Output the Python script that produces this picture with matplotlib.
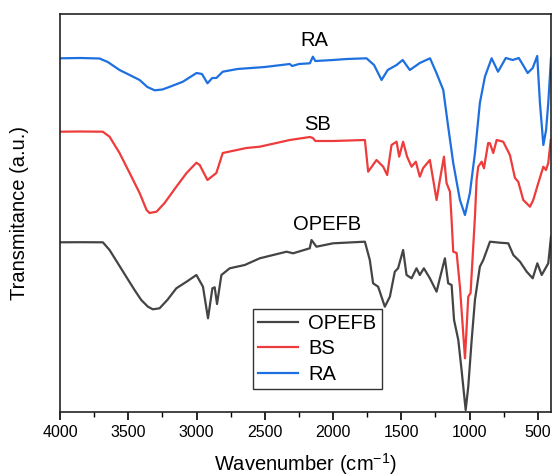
import matplotlib
matplotlib.use("Agg")
import matplotlib.pyplot as plt
from matplotlib.ticker import MultipleLocator

plt.rcParams['font.family'] = ['Liberation Sans', 'DejaVu Sans']
plt.rcParams['mathtext.fontset'] = 'custom'
plt.rcParams['mathtext.rm'] = 'Liberation Sans'

# ---- data (wavenumber cm^-1, transmittance a.u., offset stacked) ----
ra_wn = [4000, 3850, 3710, 3650, 3564, 3490, 3417, 3360, 3307, 3250, 3194, 3100, 3000, 2960, 2920,
         2885, 2855, 2808, 2700, 2500, 2317, 2300, 2250, 2170, 2148, 2130, 2000, 1900, 1755, 1700,
         1645, 1600, 1535, 1490, 1438, 1365, 1290, 1242, 1193, 1157, 1120, 1071, 1034, 998, 961,
         925, 888, 839, 792, 735, 684, 640, 609, 575, 538, 505, 485, 460, 440, 424, 404]
ra_t = [353.7, 354, 353.5, 350, 342, 337, 332, 325, 321.7, 322.5, 325.3, 330.3, 339, 338, 328.7,
        334, 334, 340.3, 343, 345, 348, 346, 348, 348.7, 355.3, 351, 352, 353, 353.7, 347,
        332, 342, 347, 352, 342, 349, 353.7, 338.7, 322, 285.3, 249, 212, 197, 219, 259,
        309, 335.3, 353.7, 340.3, 354, 352, 354, 347, 339, 344, 356, 309, 267, 282, 309, 354]

bs_wn = [4000, 3850, 3687, 3637, 3564, 3490, 3417, 3366, 3344, 3293, 3234, 3148, 3073, 3001, 2977,
         2920, 2855, 2808, 2635, 2537, 2317, 2170, 2148, 2130, 2000, 1767, 1743, 1682, 1633, 1604,
         1572, 1535, 1516, 1487, 1458, 1425, 1394, 1365, 1340, 1291, 1242, 1218, 1188, 1169, 1144,
         1132, 1120, 1095, 1071, 1034, 1010, 993, 961, 949, 937, 912, 895, 864, 851, 827, 802, 754,
         705, 668, 644, 607, 558, 534, 497, 460, 441, 424, 406]
bs_t = [280.3, 280.5, 280.3, 275.3, 259, 239, 219, 202, 199, 200.3, 209, 225.3, 239, 249.3, 247,
        232, 239, 259, 264, 265.3, 272, 275, 274, 271, 271, 272, 240.3, 252, 245.3, 237,
        267, 270.3, 255.3, 270.3, 255.3, 245.3, 250.3, 235.3, 244, 252, 212, 232, 255.3, 229, 220.3,
        192, 160.3, 159, 125.3, 53.7, 115.3, 119, 195.3, 232, 245.3, 250.3, 243.7, 269, 268.7, 259,
        272, 270.3, 257, 234, 230.3, 212, 205.3, 212, 229, 245.3, 242, 249, 272]

op_wn = [4000, 3850, 3686, 3637, 3515, 3454, 3405, 3356, 3320, 3271, 3214, 3148, 3073, 3001, 2953,
         2916, 2884, 2867, 2850, 2818, 2757, 2647, 2537, 2341, 2293, 2171, 2158, 2122, 2000, 1767,
         1731, 1707, 1670, 1621, 1584, 1548, 1524, 1487, 1462, 1425, 1389, 1365, 1335, 1291, 1242,
         1218, 1181, 1157, 1132, 1114, 1083, 1059, 1029, 1010, 985, 961, 925, 900, 851, 778, 717,
         680, 631, 582, 538, 504, 472, 424, 404]
op_t = [169.7, 169.8, 169.7, 162, 135.3, 122, 112, 105.3, 102.7, 103.7, 112, 123.7, 130.3, 137, 125.3,
        93.7, 123.7, 124.7, 108, 137, 143.7, 147, 153.7, 160.3, 158.7, 163.7, 172, 165.3, 168.7, 170.3,
        152, 128.7, 125.3, 105.3, 115.3, 140.3, 143.7, 162, 137, 133.7, 143.7, 137, 143.7, 133.7, 120.3,
        133.7, 153.7, 128.7, 127, 92, 72, 42, 2, 25.3, 72, 112, 145.3, 152, 170.3, 169.3, 168.7,
        157, 150.3, 140.3, 133.7, 148.7, 137, 148.7, 175.3]

series_names = ['OPEFB', 'BS', 'RA']
series_colors = ['#444444', '#EE3B3B', '#1E6FDF']
curve_labels = ['RA', 'SB', 'OPEFB']
label_pos = [(2134, 372), (2112, 287), (2046, 187)]

fig = plt.figure(figsize=(5.52, 4.76), dpi=100)
ax = fig.add_axes([60/552, (476-412)/476, (551-60)/552, (412-14)/476])

for wn, t, name, c in zip([op_wn, bs_wn, ra_wn], [op_t, bs_t, ra_t], series_names, series_colors):
    ax.plot(wn, t, color=c, lw=1.6, label=name, solid_joinstyle='round')

for txt, (x, y) in zip(curve_labels, label_pos):
    ax.text(x, y, txt, fontsize=14.5, ha='center', va='center')

ax.set_xlim(4000, 404)
ax.set_ylim(0, 398)
ax.xaxis.set_major_locator(MultipleLocator(500))
ax.xaxis.set_minor_locator(MultipleLocator(250))
ax.tick_params(axis='x', which='major', direction='out', length=6, width=1.2, labelsize=11.5)
ax.tick_params(axis='x', which='minor', direction='out', length=3.5, width=1.0)
ax.set_yticks([])
for s in ax.spines.values():
    s.set_linewidth(1.2)
    s.set_color('#222222')

ax.set_xlabel('Wavenumber (cm$^{\\mathregular{-1}}$)', fontsize=14.5, labelpad=8)
ax.set_ylabel('Transmitance (a.u.)', fontsize=14.5, labelpad=22)

leg = ax.legend(loc='lower left', bbox_to_anchor=(0.393, 0.058), fontsize=14.5, fancybox=False,
                edgecolor='#333333', framealpha=1, handlelength=2.0, borderpad=0.25,
                labelspacing=0.32, handletextpad=0.5, borderaxespad=0)
leg.get_frame().set_linewidth(1.0)

fig.savefig('out.png', dpi=100)
